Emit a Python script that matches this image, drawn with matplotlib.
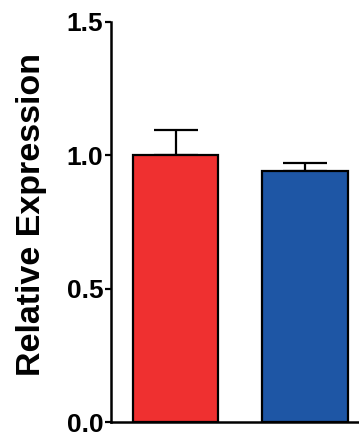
import matplotlib
matplotlib.use('Agg')
import matplotlib.pyplot as plt

# --- データ ---------------------------------------------------------------
groups = ['Control', 'Treated']
means = [1.0, 0.94]
errors = [0.094, 0.03]
colors = ['#EF3030', '#1E56A5']
yticks = [0.0, 0.5, 1.0, 1.5]
ylabel = 'Relative Expression'

plt.rcParams['font.family'] = ['Liberation Sans', 'DejaVu Sans']
plt.rcParams['font.weight'] = 'bold'

fig = plt.figure(figsize=(3.59, 4.36), dpi=100)
# 右端はフィギュア外まで伸ばす（元画像で切れている）
ax = fig.add_axes([111 / 359, 14 / 436, 260 / 359, 400 / 436])

x = list(range(len(groups)))
ax.bar(x, means, width=0.66, color=colors, edgecolor='black', linewidth=1.6, zorder=2)
ax.errorbar(x, means, yerr=[[0] * len(errors), errors], fmt='none', ecolor='black',
            elinewidth=1.6, capsize=16, capthick=1.6, zorder=1)

ax.set_xlim(-0.5, 1.51)
ax.set_ylim(0, 1.5)
ax.set_yticks(yticks)
ax.set_yticklabels([f'{v:.1f}' for v in yticks])
ax.set_xticks([])

for s in ['top', 'right']:
    ax.spines[s].set_visible(False)
for s in ['left', 'bottom']:
    ax.spines[s].set_linewidth(1.8)

ax.tick_params(axis='y', length=4, width=1.6, pad=1.5, labelsize=19)
ax.set_ylabel(ylabel, fontsize=24.5, fontweight='bold')
ax.yaxis.set_label_coords(-0.245, 0.518)

fig.savefig('out.png', dpi=100)
